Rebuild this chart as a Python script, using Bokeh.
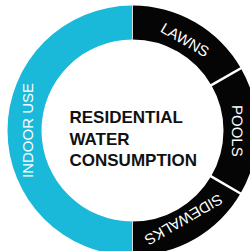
import math
from bokeh.plotting import figure
from bokeh.models import Range1d, ColumnDataSource
from bokeh.core.properties import value
from bokeh.embed import file_html
from bokeh.resources import INLINE

# Data (clockwise from 12 o'clock)
categories = ["LAWNS", "POOLS", "SIDEWALKS", "INDOOR USE"]
shares = [16.7, 16.7, 16.6, 50.0]
colors = ["#050505", "#050505", "#050505", "#1ab9d9"]
title_lines = ["RESIDENTIAL", "WATER", "CONSUMPTION"]

W, H = 250, 251
CX, CY = 132, H - 130
R_OUT, R_IN = 125, 91
label_r = [105, 105, 103, 105]
label_size = ["15px", "15px", "15px", "15px"]

total = sum(shares)
starts, ends, lx, ly, la = [], [], [], [], []
a = math.pi / 2
for i, s in enumerate(shares):
    b = a - s / total * 2 * math.pi
    starts.append(b)
    ends.append(a)
    m = (a + b) / 2
    lx.append(CX + label_r[i] * math.cos(m))
    ly.append(CY + label_r[i] * math.sin(m))
    la.append(m - math.pi / 2)
    a = b

src = ColumnDataSource(dict(cat=categories, start=starts, end=ends, color=colors,
                            lx=lx, ly=ly, la=la, fs=label_size))

p = figure(width=W, height=H, output_backend="svg", toolbar_location=None,
           x_range=Range1d(0, W), y_range=Range1d(0, H), min_border=0)
p.axis.visible = False
p.grid.visible = False
p.outline_line_color = None
p.background_fill_color = "white"
p.border_fill_color = "white"

p.annular_wedge(x=CX, y=CY, inner_radius=R_IN, outer_radius=R_OUT,
                start_angle="start", end_angle="end", fill_color="color",
                line_color=None, source=src)

# separators between segments
bx0, by0, bx1, by1, bw, bc = [], [], [], [], [], []
for i, ang in enumerate(ends):
    prev = colors[i - 1]
    cur = colors[i]
    bx0.append(CX + (R_IN - 1) * math.cos(ang))
    by0.append(CY + (R_IN - 1) * math.sin(ang))
    bx1.append(CX + (R_OUT + 1) * math.cos(ang))
    by1.append(CY + (R_OUT + 1) * math.sin(ang))
    if prev == cur:
        bw.append(2.5)
        bc.append("white")
    else:
        bw.append(1.0)
        bc.append("#d8d8d8")
p.segment(x0=bx0, y0=by0, x1=bx1, y1=by1, line_width=bw, line_color=bc)

p.text(x="lx", y="ly", text="cat", angle="la", source=src,
       text_font=value("Liberation Sans"), text_font_size="fs",
       text_color="white", text_align="center", text_baseline="middle")

ty = [H - 117, H - 138.5, H - 160]
p.text(x=[69] * 3, y=ty, text=title_lines,
       text_font=value("Liberation Sans"), text_font_style="bold",
       text_font_size="17px", text_color="#111111",
       text_align="left", text_baseline="alphabetic")

open("out.html", "w").write(file_html(p, INLINE))
